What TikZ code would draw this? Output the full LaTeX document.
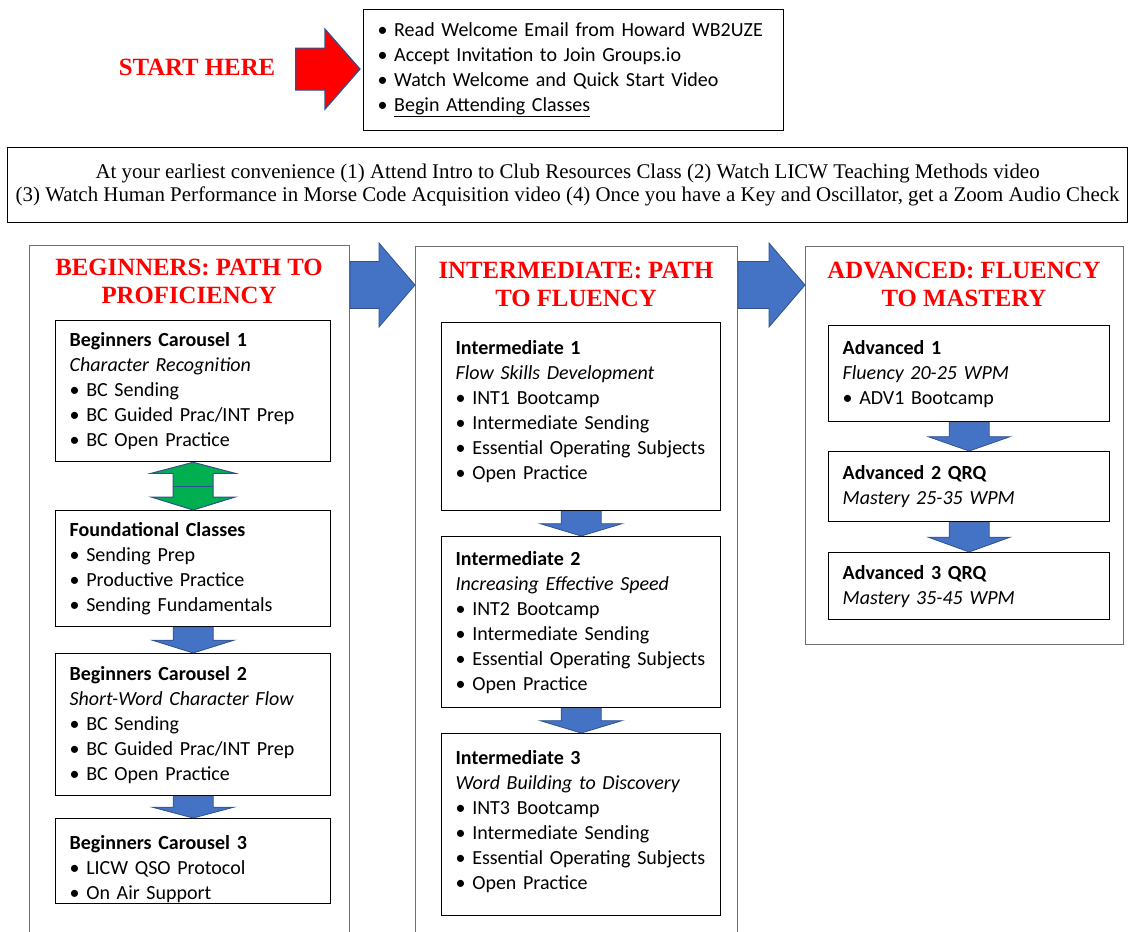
\documentclass[tikz,border=0pt]{standalone}
\usepackage{fontspec}
\setmainfont{Liberation Serif}
\newfontfamily\calibri{Carlito}
\usetikzlibrary{positioning, calc}
\definecolor{licwred}{HTML}{FF0000}
\definecolor{licwblue}{HTML}{4472C4}
\definecolor{licwedge}{HTML}{2F528F}
\definecolor{licwgreen}{HTML}{00B050}
\definecolor{licwgray}{HTML}{6E6E6E}

% block arrow pointing right: from, to, body half, head half, head length, style
\newcommand{\rtblock}[6]{%
  \path[#6] let \p1=#1, \p2=#2 in
    (\x1,\y2+#3) -- (\x2-#5,\y2+#3) -- (\x2-#5,\y2+#4) -- (\x2,\y2)
    -- (\x2-#5,\y2-#4) -- (\x2-#5,\y2-#3) -- (\x1,\y2-#3) -- cycle;}
% block arrow pointing down between two boxes
\newcommand{\dnblock}[2]{%
  \path[blockfill] let \p1=(#1.south), \p2=(#2.north), \p3=($(#1.south)!.5!(#2.north)$) in
    (\x1-20pt,\y1) -- (\x1-20pt,\y3) -- (\x1-41pt,\y3) -- (\x1,\y2)
    -- (\x1+41pt,\y3) -- (\x1+20pt,\y3) -- (\x1+20pt,\y1) -- cycle;}

\begin{document}
\begin{tikzpicture}[x=1pt, y=-1pt,
  txt/.style={font=\calibri\fontsize{20}{25}\selectfont},
  classbox/.style={txt, draw=black, line width=1.3pt, anchor=north west, align=left,
    inner xsep=14pt, inner ysep=0pt, text width=#1},
  pathcol/.style={draw=licwgray, line width=1pt, anchor=north west, inner sep=0pt},
  heading/.style={font=\fontsize{24.8}{28}\selectfont\bfseries, text=licwred, align=center},
  blockfill/.style={fill=licwblue, draw=licwedge, line width=0.8pt},
  redfill/.style={fill=licwred, draw=licwedge, line width=1.2pt},
  greenfill/.style={fill=licwgreen, draw=licwedge, line width=1pt}]

\useasboundingbox (0,0) rectangle (1128,932);

% start
\node[heading] (start) at (197,67) {START HERE};
\node[txt, draw=black, line width=1.2pt, anchor=north west, minimum width=420pt, minimum height=121pt,
  text width=392pt, align=left, inner xsep=14pt] (welcome) at (363,9)
  {• Read Welcome Email from Howard WB2UZE\\
   • Accept Invitation to Join Groups.io\\
   • Watch Welcome and Quick Start Video\\
   • \underline{Begin Attending Classes}};
\rtblock{($(start.east)+(17,0)$)}{($(welcome.west)+(-3,-1)$)}{21pt}{40pt}{35pt}{redfill}

% resources
\node[draw=black, line width=1.2pt, anchor=north west, minimum width=1120pt, minimum height=75pt,
  align=center, font=\fontsize{20.9}{23}\selectfont] (resources) at (7,147)
  {At your earliest convenience (1) Attend Intro to Club Resources Class (2) Watch LICW Teaching Methods video\\
   (3) Watch Human Performance in Morse Code Acquisition video (4) Once you have a Key and Oscillator, get a Zoom Audio Check};

% columns
\node[pathcol, minimum width=320pt, minimum height=700pt] (beg) at (29,245) {};
\node[pathcol, minimum width=322pt, minimum height=700pt] (inter) at (415,246) {};
\node[pathcol, minimum width=318pt, minimum height=398pt] (adv) at (805,246) {};

\node[heading] (beghead) at (189,281) {BEGINNERS: PATH TO\\PROFICIENCY};
\node[heading] (interhead) at (576,284) {INTERMEDIATE: PATH\\TO FLUENCY};
\node[heading] (advhead) at (964,284) {ADVANCED: FLUENCY\\TO MASTERY};

\rtblock{(beg.east)}{($(inter.north west)+(0,39)$)}{23.5pt}{42pt}{36pt}{blockfill}
\rtblock{(inter.east)}{($(adv.north west)+(0,39)$)}{23.5pt}{42pt}{36pt}{blockfill}

% beginners
\node[classbox=247pt, minimum height=141pt] (bc1) at (55,320)
  {\textbf{Beginners Carousel 1}\\ \textit{Character Recognition}\\
   • BC Sending\\ • BC Guided Prac/INT Prep\\ • BC Open Practice};
\node[classbox=247pt, minimum height=116pt] (found) at (55,510)
  {\textbf{Foundational Classes}\\ • Sending Prep\\ • Productive Practice\\ • Sending Fundamentals};
\node[classbox=247pt, minimum height=142pt] (bc2) at (55,653)
  {\textbf{Beginners Carousel 2}\\ \textit{Short-Word Character Flow}\\
   • BC Sending\\ • BC Guided Prac/INT Prep\\ • BC Open Practice};
\node[classbox=247pt, minimum height=85pt] (bc3) at (55,818)
  {\rule{0pt}{29pt}\textbf{Beginners Carousel 3}\\ • LICW QSO Protocol\\ • On Air Support};

\path[greenfill] let \p1=(bc1.south), \p2=(found.north) in
  (\x1,\y1) -- (\x1+42pt,\y1-11pt) -- (\x1+20pt,\y1-11pt) -- (\x1+20pt,\y2+13pt)
  -- (\x1+42pt,\y2+13pt) -- (\x1,\y2) -- (\x1-42pt,\y2+13pt) -- (\x1-20pt,\y2+13pt)
  -- (\x1-20pt,\y1-11pt) -- (\x1-42pt,\y1-11pt) -- cycle;
\draw[licwedge, line width=1pt] let \p1=($(bc1.south)!.5!(found.north)$) in
  (\x1-20pt,\y1) -- (\x1+20pt,\y1);
\dnblock{found}{bc2}
\dnblock{bc2}{bc3}

% intermediate
\node[classbox=251pt, minimum height=188pt] (int1) at (441,322)
  {\textbf{Intermediate 1}\\ \textit{Flow Skills Development}\\ • INT1 Bootcamp\\
   • Intermediate Sending\\ • Essential Operating Subjects\\ • Open Practice\\[-11pt]\mbox{}};
\node[classbox=251pt, minimum height=171pt] (int2) at (441,536)
  {\textbf{Intermediate 2}\\ \textit{Increasing Effective Speed}\\ • INT2 Bootcamp\\
   • Intermediate Sending\\ • Essential Operating Subjects\\ • Open Practice};
\node[classbox=251pt, minimum height=182pt] (int3) at (441,733)
  {\textbf{Intermediate 3}\\ \textit{Word Building to Discovery}\\ • INT3 Bootcamp\\
   • Intermediate Sending\\ • Essential Operating Subjects\\ • Open Practice\\[-15pt]\mbox{}};
\dnblock{int1}{int2}
\dnblock{int2}{int3}

% advanced
\node[classbox=253pt, minimum height=96pt] (adv1) at (828,325)
  {\textbf{Advanced 1}\\ \textit{Fluency 20-25 WPM}\\ • ADV1 Bootcamp};
\node[classbox=253pt, minimum height=70pt] (adv2) at (828,451)
  {\textbf{Advanced 2 QRQ}\\ \textit{Mastery 25-35 WPM}};
\node[classbox=253pt, minimum height=67pt] (adv3) at (828,552)
  {\textbf{Advanced 3 QRQ}\\ \textit{Mastery 35-45 WPM}};
\dnblock{adv1}{adv2}
\dnblock{adv2}{adv3}
\end{tikzpicture}
\end{document}
